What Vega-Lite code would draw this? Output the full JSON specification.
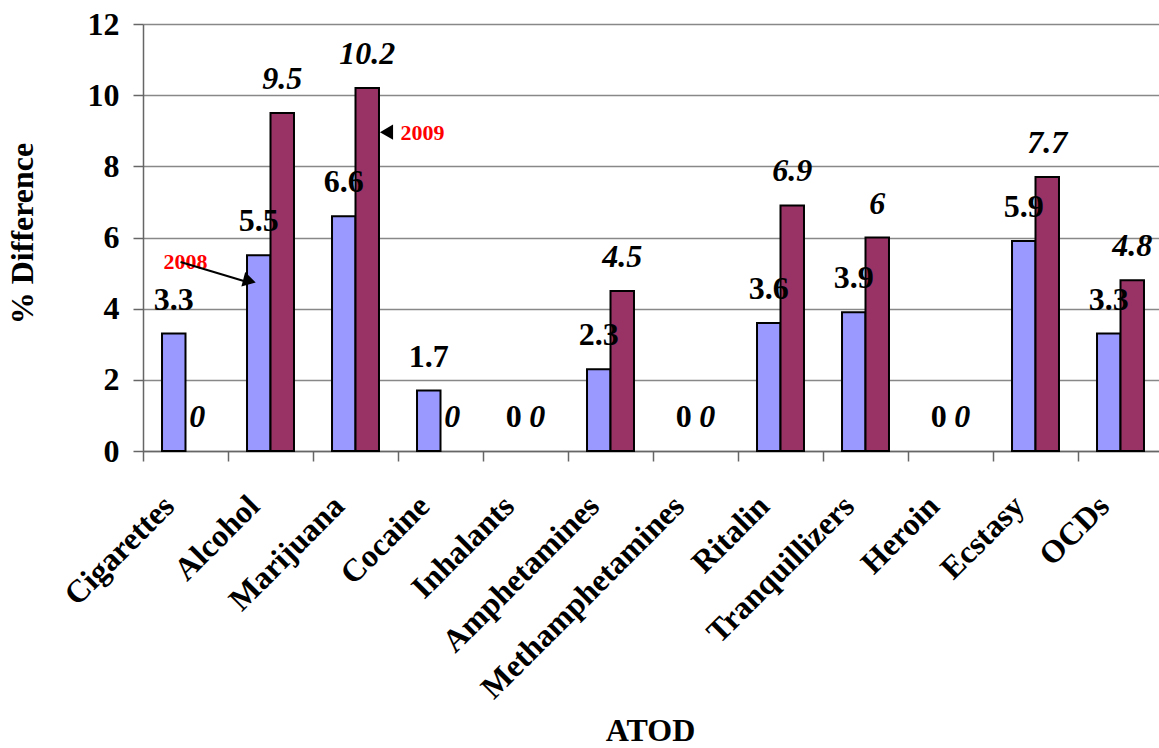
{
  "$schema": "https://vega.github.io/schema/vega-lite/v6.json",
  "width": 1020,
  "height": 427,
  "autosize": {"type": "none"},
  "padding": {"left": 143, "top": 24, "right": 0, "bottom": 297},
  "background": "white",
  "config": {
    "view": {"stroke": null},
    "font": "Liberation Serif",
    "axis": {"labelFont": "Liberation Serif", "titleFont": "Liberation Serif"}
  },
  "datasets": {
    "main": [
      {"cat": "Cigarettes", "year": "2008", "value": 3.3},
      {"cat": "Cigarettes", "year": "2009", "value": 0},
      {"cat": "Alcohol", "year": "2008", "value": 5.5},
      {"cat": "Alcohol", "year": "2009", "value": 9.5},
      {"cat": "Marijuana", "year": "2008", "value": 6.6},
      {"cat": "Marijuana", "year": "2009", "value": 10.2},
      {"cat": "Cocaine", "year": "2008", "value": 1.7},
      {"cat": "Cocaine", "year": "2009", "value": 0},
      {"cat": "Inhalants", "year": "2008", "value": 0},
      {"cat": "Inhalants", "year": "2009", "value": 0},
      {"cat": "Amphetamines", "year": "2008", "value": 2.3},
      {"cat": "Amphetamines", "year": "2009", "value": 4.5},
      {"cat": "Methamphetamines", "year": "2008", "value": 0},
      {"cat": "Methamphetamines", "year": "2009", "value": 0},
      {"cat": "Ritalin", "year": "2008", "value": 3.6},
      {"cat": "Ritalin", "year": "2009", "value": 6.9},
      {"cat": "Tranquillizers", "year": "2008", "value": 3.9},
      {"cat": "Tranquillizers", "year": "2009", "value": 6},
      {"cat": "Heroin", "year": "2008", "value": 0},
      {"cat": "Heroin", "year": "2009", "value": 0},
      {"cat": "Ecstasy", "year": "2008", "value": 5.9},
      {"cat": "Ecstasy", "year": "2009", "value": 7.7},
      {"cat": "OCDs", "year": "2008", "value": 3.3},
      {"cat": "OCDs", "year": "2009", "value": 4.8}
    ],
    "notes": [
      {"cat": "Cigarettes", "value": 5.32, "label": "2008"}
    ],
    "notes2": [
      {"cat": "Marijuana", "value": 8.95, "label": "2009"}
    ],
    "shaft": [
      {"cat": "Cigarettes", "cat2": "Alcohol", "value": 5.31, "value2": 4.72}
    ],
    "head1": [
      {"cat": "Alcohol", "value": 4.78}
    ],
    "head2": [
      {"cat": "Marijuana", "value": 8.96}
    ]
  },
  "layer": [
    {
      "data": {"name": "main"},
      "transform": [{"filter": "datum.value > 0"}],
      "mark": {"type": "bar", "stroke": "black", "strokeWidth": 2},
      "encoding": {
        "x": {
          "field": "cat", "type": "nominal",
          "scale": {"domain": ["Cigarettes","Alcohol","Marijuana","Cocaine","Inhalants","Amphetamines","Methamphetamines","Ritalin","Tranquillizers","Heroin","Ecstasy","OCDs"], "paddingInner": 0, "paddingOuter": 0},
          "axis": {
            "title": "ATOD",
            "titleFontSize": 32, "titleFontWeight": "bold", "titleColor": "black",
            "titleX": 507, "titleY": 279, "titleBaseline": "middle", "titleAnchor": "start", "titleAlign": "center",
            "labelAngle": -45, "labelAlign": "right", "labelBaseline": "top",
            "labelFontSize": 32, "labelFontWeight": "bold", "labelColor": "black",
            "labelPadding": 29, "labelOffset": -27,
            "bandPosition": 0,
            "tickSize": 10, "tickColor": "#666", "domainColor": "#666", "domainWidth": 1.5, "tickWidth": 1.5,
            "labelOverlap": false, "labelLimit": 0, "grid": false
          }
        },
        "xOffset": {"field": "year", "type": "nominal", "scale": {"domain": ["2008","2009"], "paddingInner": 0, "paddingOuter": 0.81}},
        "y": {
          "field": "value", "type": "quantitative",
          "scale": {"domain": [0, 12], "nice": false},
          "axis": {
            "title": "% Difference",
            "titleFontSize": 32, "titleFontWeight": "bold", "titleColor": "black",
            "titleX": -121, "titleY": 209, "titleAngle": -90, "titleAlign": "center", "titleBaseline": "middle",
            "values": [0,2,4,6,8,10,12],
            "labelFontSize": 32, "labelFontWeight": "bold", "labelColor": "black",
            "labelPadding": 14, "tickSize": 10, "tickColor": "#666", "domainColor": "#666", "domainWidth": 1.5, "tickWidth": 1.5,
            "grid": true, "gridColor": "#888", "gridWidth": 1.3
          }
        },
        "color": {"field": "year", "type": "nominal", "scale": {"domain": ["2008","2009"], "range": ["#9999FF", "#993366"]}, "legend": null}
      }
    },
    {
      "data": {"name": "main"},
      "transform": [{"filter": "datum.year == '2008'"}],
      "mark": {"type": "text", "fontSize": 32, "fontWeight": "bold", "baseline": "alphabetic", "dy": -24, "color": "black"},
      "encoding": {
        "x": {"field": "cat", "type": "nominal"},
        "xOffset": {"field": "year", "type": "nominal"},
        "y": {"field": "value", "type": "quantitative"},
        "text": {"field": "value", "type": "quantitative", "format": ".3~r"}
      }
    },
    {
      "data": {"name": "main"},
      "transform": [{"filter": "datum.year == '2009'"}],
      "mark": {"type": "text", "fontSize": 32, "fontWeight": "bold", "fontStyle": "italic", "baseline": "alphabetic", "dy": -24, "color": "black"},
      "encoding": {
        "x": {"field": "cat", "type": "nominal"},
        "xOffset": {"field": "year", "type": "nominal"},
        "y": {"field": "value", "type": "quantitative"},
        "text": {"field": "value", "type": "quantitative", "format": ".3~r"}
      }
    },
    {
      "data": {"name": "notes"},
      "mark": {"type": "text", "fontSize": 22, "fontWeight": "bold", "color": "red", "baseline": "middle"},
      "encoding": {
        "x": {"field": "cat", "type": "nominal"},
        "y": {"field": "value", "type": "quantitative"},
        "text": {"field": "label"}
      }
    },
    {
      "data": {"name": "notes2"},
      "mark": {"type": "text", "fontSize": 22, "fontWeight": "bold", "color": "red", "baseline": "middle", "dx": 67},
      "encoding": {
        "x": {"field": "cat", "type": "nominal"},
        "y": {"field": "value", "type": "quantitative"},
        "text": {"field": "label"}
      }
    },
    {
      "data": {"name": "shaft"},
      "mark": {"type": "rule", "color": "black", "strokeWidth": 2, "xOffset": -5, "x2Offset": -20},
      "encoding": {
        "x": {"field": "cat", "type": "nominal"},
        "x2": {"field": "cat2"},
        "y": {"field": "value", "type": "quantitative"},
        "y2": {"field": "value2"}
      }
    },
    {
      "data": {"name": "head1"},
      "mark": {"type": "point", "shape": "triangle-right", "filled": true, "color": "black", "size": 220, "angle": 15, "opacity": 1, "xOffset": -21},
      "encoding": {
        "x": {"field": "cat", "type": "nominal"},
        "y": {"field": "value", "type": "quantitative"}
      }
    },
    {
      "data": {"name": "head2"},
      "mark": {"type": "point", "shape": "triangle-left", "filled": true, "color": "black", "size": 230, "opacity": 1, "xOffset": 31},
      "encoding": {
        "x": {"field": "cat", "type": "nominal"},
        "y": {"field": "value", "type": "quantitative"}
      }
    }
  ]
}
